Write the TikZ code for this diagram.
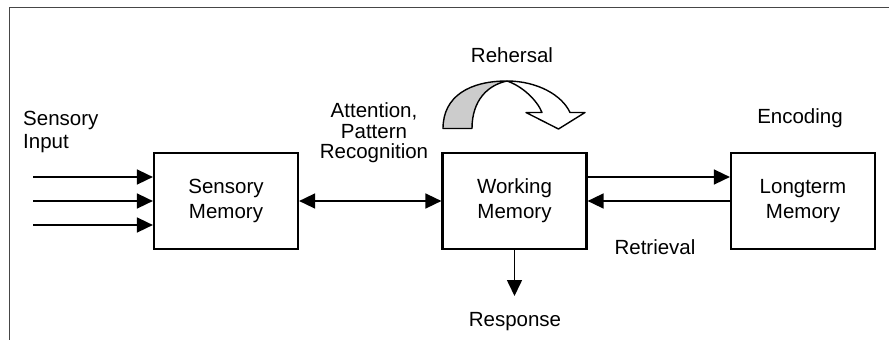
\documentclass[tikz,border=0pt]{standalone}
\usepackage{fontspec}
\setmainfont{Liberation Sans}
\usetikzlibrary{arrows.meta}
\definecolor{framegray}{RGB}{70,70,70}
\definecolor{bandgray}{RGB}{204,204,204}
\tikzset{
  memorybox/.style={draw, line width=2.2pt, minimum width=144pt, minimum height=96pt,
    inner sep=0pt, align=center, font=\fontsize{20.5}{25}\selectfont},
  flow/.style={line width=1.6pt, -{Triangle[length=16pt,width=15pt]}},
  bothflow/.style={line width=1.6pt, {Triangle[length=16pt,width=15pt]}-{Triangle[length=16pt,width=15pt]}},
  label/.style={inner sep=0pt, font=\fontsize{20.5}{23}\selectfont},
  bandline/.style={line width=1.4pt, line join=round}
}
\begin{document}
\begin{tikzpicture}[x=1pt, y=-1pt]
\useasboundingbox (0,0) rectangle (889,340);

% outer frame (top and left edges)
\draw[framegray, line width=1pt] (9.5,340) -- (9.5,7.5) -- (889,7.5);

% memory stores
\node[memorybox] (sm) at (226,201) {Sensory\\Memory};
\node[memorybox] (wm) at (514.5,201) {Working\\Memory};
\node[memorybox] (lm) at (803,201) {Longterm\\Memory};

% sensory input lines
\coordinate (in1) at (33,177);
\coordinate (in2) at (33,201);
\coordinate (in3) at (33,225);
\draw[flow] (in1) -- (in1 -| sm.west);
\draw[flow] (in2) -- (in2 -| sm.west);
\draw[flow] (in3) -- (in3 -| sm.west);

% connections between stores
\draw[bothflow] (sm.east) -- (wm.west);
\draw[flow] (wm.east |- in1) -- (lm.west |- in1);
\draw[flow] (lm.west) -- (wm.east);
\coordinate (resp) at (514.5,296);
\draw[flow] (wm.south) -- (resp);

% rehearsal loop arrow
\coordinate (peak) at (507,81);
\filldraw[bandline, fill=bandgray]
  (443,128.5) .. controls (443,96) and (470,81) .. (peak)
  .. controls (488,85) and (472,100) .. (472,128.5) -- cycle;
\filldraw[bandline, fill=white]
  (peak) .. controls (537,81) and (562,95) .. (570,112.5)
  -- (585,112.5) -- (558.5,129) -- (526,112.5) -- (542,112.5)
  .. controls (537,100) and (522,86) .. (peak) -- cycle;

% labels
\node[label, align=left, anchor=north west] (lin) at (23,111) {Sensory\\[-0.5pt]Input};
\node[label, align=center, anchor=north, font=\fontsize{20.5}{20.5}\selectfont] (latt) at (374,102.5) {Attention,\\Pattern\\Recognition};
\node[label, anchor=base] (lreh) at (512,62) {Rehersal};
\node[label, anchor=base] (lenc) at (800,123) {Encoding};
\node[label, anchor=base] (lret) at (655,254) {Retrieval};
\node[label, anchor=base] (lres) at (515,326) {Response};
\end{tikzpicture}
\end{document}
